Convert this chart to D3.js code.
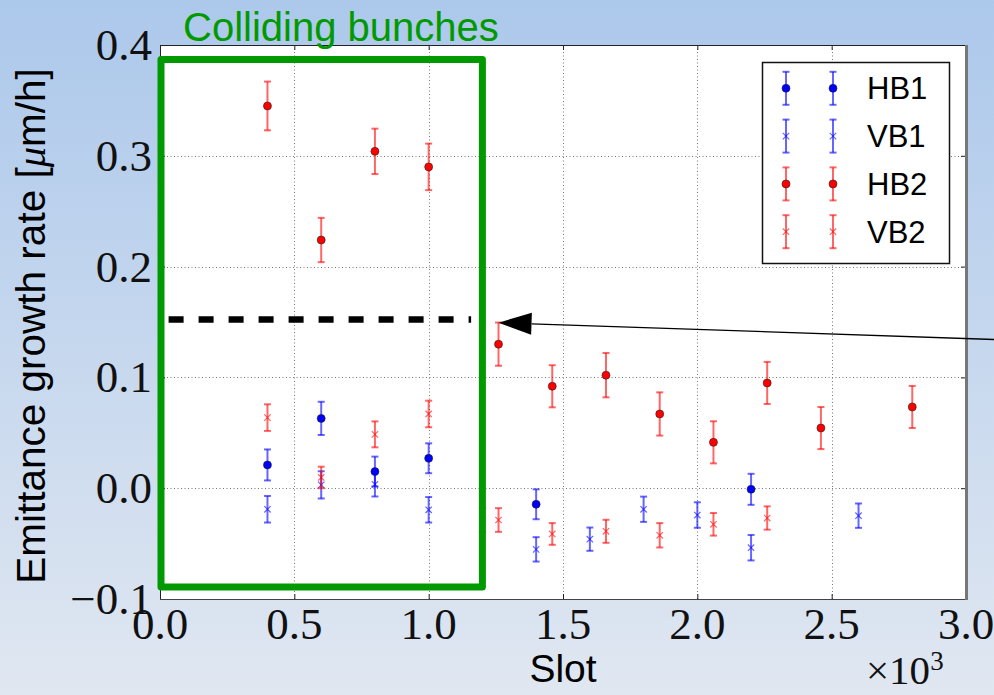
<!DOCTYPE html>
<html>
<head>
<meta charset="utf-8">
<script src="https://cdn.jsdelivr.net/npm/d3@7"></script>
<style>
  html, body { margin: 0; padding: 0; }
  svg { display: block; }
</style>
</head>
<body>
<svg id="chart" width="994" height="695"></svg>
<script>
// Emittance growth rate per bunch slot, horizontal/vertical planes of beams 1 and 2
const hb1Slots = [400, 600, 800, 1000, 1400, 2200];
const hb1Rate  = [0.021, 0.063, 0.015, 0.027, -0.0145, -0.001];
const hb1Err   = [0.014, 0.015, 0.0135, 0.0135, 0.0135, 0.014];

const vb1Slots = [400, 600, 800, 1000, 1200, 1400, 1600, 1800, 2000, 2200, 2600];
const vb1Rate  = [-0.019, 0.003, 0.0035, -0.0195, -0.0287, -0.0552, -0.046, -0.019, -0.0242, -0.0537, -0.0248];
const vb1Err   = [0.012, 0.0123, 0.011, 0.0115, 0.011, 0.011, 0.0105, 0.0114, 0.0115, 0.0115, 0.011];

const hb2Slots = [400, 600, 800, 1000, 1260, 1460, 1660, 1860, 2060, 2260, 2460, 2800];
const hb2Rate  = [0.345, 0.224, 0.304, 0.290, 0.130, 0.092, 0.102, 0.067, 0.0414, 0.095, 0.0543, 0.0733];
const hb2Err   = [0.022, 0.020, 0.0205, 0.021, 0.0195, 0.019, 0.020, 0.0195, 0.019, 0.019, 0.019, 0.019];

const vb2Slots = [400, 600, 800, 1000, 1260, 1460, 1660, 1860, 2060, 2260];
const vb2Rate  = [0.0637, 0.0097, 0.0486, 0.067, -0.0287, -0.0413, -0.0389, -0.0425, -0.0326, -0.0269];
const vb2Err   = [0.012, 0.0097, 0.0117, 0.012, 0.0107, 0.0098, 0.0104, 0.011, 0.0102, 0.0105];

const seriesNames  = ["HB1", "VB1", "HB2", "VB2"];
const seriesColors = ["#0000ff", "#0000ff", "#ff0000", "#ff0000"];
const seriesShapes = ["dot", "cross", "dot", "cross"];

const xTickValues = [0, 500, 1000, 1500, 2000, 2500, 3000];
const xTickLabels = ["0.0", "0.5", "1.0", "1.5", "2.0", "2.5", "3.0"];
const yTickValues = [-0.1, 0.0, 0.1, 0.2, 0.3, 0.4];
const yTickLabels = ["\u22120.1", "0.0", "0.1", "0.2", "0.3", "0.4"];

// Annotations in data units
const collidingBox = { x0: 0, x1: 1200, y0: -0.0892, y1: 0.387 };
const thresholdLevel = 0.1523;
const thresholdSpan = [32, 1158];
const arrowTip = [1260, 0.1494];
const arrowTail = [3200, 0.1334];

const series = [
  { slots: hb1Slots, rate: hb1Rate, err: hb1Err },
  { slots: vb1Slots, rate: vb1Rate, err: vb1Err },
  { slots: hb2Slots, rate: hb2Rate, err: hb2Err },
  { slots: vb2Slots, rate: vb2Rate, err: vb2Err }
].map((s, i) => ({
  name: seriesNames[i], color: seriesColors[i], shape: seriesShapes[i],
  points: s.slots.map((x, j) => ({ x, y: s.rate[j], e: s.err[j] }))
}));

const svg = d3.select("#chart");
const W = 994, H = 695;
const m = { left: 160, right: 966, top: 45, bottom: 599 };

const x = d3.scaleLinear().domain([0, 3000]).range([m.left, m.right]);
const y = d3.scaleLinear().domain([-0.1, 0.4]).range([m.bottom, m.top]);

// Figure background
const defs = svg.append("defs");
const grad = defs.append("linearGradient").attr("id", "bg").attr("x1", 0).attr("y1", 0).attr("x2", 0).attr("y2", 1);
grad.append("stop").attr("offset", "0%").attr("stop-color", "#acc8eb");
grad.append("stop").attr("offset", "100%").attr("stop-color", "#e0e7f1");
svg.append("rect").attr("width", W).attr("height", H).attr("fill", "url(#bg)");

defs.append("clipPath").attr("id", "plotClip").append("rect")
  .attr("x", m.left).attr("y", m.top).attr("width", m.right - m.left).attr("height", m.bottom - m.top);

// Axes background
svg.append("rect").attr("x", m.left).attr("y", m.top)
  .attr("width", m.right - m.left).attr("height", m.bottom - m.top).attr("fill", "#ffffff");

// Dotted grid
const grid = svg.append("g").attr("stroke", "#777").attr("stroke-width", 1).attr("stroke-dasharray", "1,2.5");
grid.selectAll("line.gx").data(xTickValues.slice(1, -1)).join("line")
  .attr("x1", d => Math.round(x(d)) + 0.5).attr("x2", d => Math.round(x(d)) + 0.5)
  .attr("y1", m.top).attr("y2", m.bottom);
grid.selectAll("line.gy").data(yTickValues.slice(1, -1)).join("line")
  .attr("y1", d => Math.round(y(d)) + 0.5).attr("y2", d => Math.round(y(d)) + 0.5)
  .attr("x1", m.left).attr("x2", m.right);

// Axes with inward ticks (labels drawn separately for serif styling)
const axB = svg.append("g").attr("transform", `translate(0,${m.bottom})`)
  .call(d3.axisBottom(x).tickValues(xTickValues).tickSize(-5).tickFormat(""));
const axT = svg.append("g").attr("transform", `translate(0,${m.top})`)
  .call(d3.axisTop(x).tickValues(xTickValues).tickSize(-5).tickFormat(""));
const axL = svg.append("g").attr("transform", `translate(${m.left},0)`)
  .call(d3.axisLeft(y).tickValues(yTickValues).tickSize(-5).tickFormat(""));
const axR = svg.append("g").attr("transform", `translate(${m.right},0)`)
  .call(d3.axisRight(y).tickValues(yTickValues).tickSize(-5).tickFormat(""));
[axB, axT, axL, axR].forEach(a => {
  a.select(".domain").remove();
  a.selectAll("line").attr("stroke", "#222").attr("stroke-width", 1);
});

// Frame
svg.append("line").attr("x1", m.left + 0.5).attr("x2", m.left + 0.5).attr("y1", m.top).attr("y2", m.bottom).attr("stroke", "#222");
svg.append("line").attr("x1", m.left).attr("x2", m.right).attr("y1", m.top + 0.5).attr("y2", m.top + 0.5).attr("stroke", "#222");
svg.append("line").attr("x1", m.left).attr("x2", m.right).attr("y1", m.bottom + 0.5).attr("y2", m.bottom + 0.5).attr("stroke", "#444");
svg.append("line").attr("x1", m.right + 0.5).attr("x2", m.right + 0.5).attr("y1", m.top).attr("y2", m.bottom + 1).attr("stroke", "#777").attr("stroke-width", 3);

// Tick labels
const serif = "'Liberation Serif', 'DejaVu Serif', serif";
svg.append("g").selectAll("text").data(xTickValues).join("text")
  .attr("x", d => x(d)).attr("y", m.bottom + 40)
  .attr("text-anchor", "middle").attr("font-family", serif).attr("font-size", 45).attr("fill", "#111")
  .text((d, i) => xTickLabels[i]);
svg.append("g").selectAll("text").data(yTickValues).join("text")
  .attr("x", m.left - 8).attr("y", d => y(d) + 15)
  .attr("text-anchor", "end").attr("font-family", serif).attr("font-size", 45).attr("fill", "#111")
  .text((d, i) => yTickLabels[i]);

// Axis titles
const sans = "'Liberation Sans', Arial, sans-serif";
svg.append("text").attr("x", (m.left + m.right) / 2).attr("y", 682)
  .attr("text-anchor", "middle").attr("font-family", sans).attr("font-size", 39).attr("fill", "#000").text("Slot");
const yl = svg.append("text").attr("transform", `translate(45,326) rotate(-90)`)
  .attr("text-anchor", "middle").attr("font-family", sans).attr("font-size", 40.5).attr("fill", "#000");
yl.append("tspan").text("Emittance growth rate [");
yl.append("tspan").attr("font-family", serif).attr("font-style", "italic").text("\u03bc");
yl.append("tspan").text("m/h]");

// Offset label
const off = svg.append("text").attr("x", 866).attr("y", 684).attr("font-family", serif).attr("font-size", 41).attr("fill", "#111");
off.append("tspan").text("\u00d710");
off.append("tspan").attr("font-size", 27).attr("dy", -14).text("3");

// Marker drawing helpers
function drawErrorBar(g, cx, cTop, cBot, color) {
  g.append("line").attr("x1", cx).attr("x2", cx).attr("y1", cTop).attr("y2", cBot)
    .attr("stroke", color).attr("stroke-width", 2).attr("stroke-opacity", 0.6);
  [cTop, cBot].forEach(cy => g.append("line").attr("x1", cx - 3.5).attr("x2", cx + 3.5).attr("y1", cy).attr("y2", cy)
    .attr("stroke", color).attr("stroke-width", 2).attr("stroke-opacity", 0.6));
}
function drawMarker(g, cx, cy, shape, color) {
  if (shape === "dot") {
    g.append("circle").attr("cx", cx).attr("cy", cy).attr("r", 4)
      .attr("fill", color).attr("stroke", "#222").attr("stroke-width", 0.6);
  } else {
    const s = 3.2;
    g.append("path").attr("d", `M${cx - s},${cy - s}L${cx + s},${cy + s}M${cx - s},${cy + s}L${cx + s},${cy - s}`)
      .attr("stroke", color).attr("stroke-width", 1.2).attr("stroke-opacity", 0.6).attr("fill", "none");
  }
}

// Data marks
const marks = svg.append("g").attr("clip-path", "url(#plotClip)");
series.forEach(s => {
  const g = marks.append("g").attr("class", "series-" + s.name);
  s.points.forEach(p => {
    drawErrorBar(g, x(p.x), y(p.y + p.e), y(p.y - p.e), s.color);
    drawMarker(g, x(p.x), y(p.y), s.shape, s.color);
  });
});

// Colliding bunches box
const green = "#009a00";
svg.append("rect")
  .attr("x", x(collidingBox.x0) + 1).attr("y", y(collidingBox.y1))
  .attr("width", x(collidingBox.x1) - x(collidingBox.x0) - 1)
  .attr("height", y(collidingBox.y0) - y(collidingBox.y1))
  .attr("fill", "none").attr("stroke", green).attr("stroke-width", 7).attr("stroke-linejoin", "round");
svg.append("text").attr("x", 183).attr("y", 41)
  .attr("font-family", sans).attr("font-size", 40).attr("fill", green).text("Colliding bunches");

// Threshold dashed line
svg.append("line")
  .attr("x1", x(thresholdSpan[0])).attr("x2", x(thresholdSpan[1]))
  .attr("y1", y(thresholdLevel)).attr("y2", y(thresholdLevel))
  .attr("stroke", "#000").attr("stroke-width", 6.5).attr("stroke-dasharray", "15,15");

// Arrow pointing to the first non-colliding bunch
const tip = [x(arrowTip[0]), y(arrowTip[1])];
const tail = [x(arrowTail[0]), y(arrowTail[1])];
const ang = Math.atan2(tail[1] - tip[1], tail[0] - tip[0]);
const hl = 33, hw = 11;
const base = [tip[0] + hl * Math.cos(ang), tip[1] + hl * Math.sin(ang)];
svg.append("line").attr("x1", base[0]).attr("y1", base[1]).attr("x2", tail[0]).attr("y2", tail[1])
  .attr("stroke", "#000").attr("stroke-width", 1.3);
svg.append("path")
  .attr("d", `M${tip[0]},${tip[1]}L${base[0] - hw * Math.sin(ang)},${base[1] + hw * Math.cos(ang)}L${base[0] + hw * Math.sin(ang)},${base[1] - hw * Math.cos(ang)}Z`)
  .attr("fill", "#000");

// Legend
const lg = svg.append("g");
lg.append("rect").attr("x", 762.5).attr("y", 62.5).attr("width", 187).attr("height", 201)
  .attr("fill", "#fff").attr("stroke", "#111").attr("stroke-width", 1.5);
series.forEach((s, i) => {
  const cy = 88.3 + i * 47.8;
  [786, 833].forEach(cx => {
    drawErrorBar(lg, cx, cy - 16.5, cy + 16.5, s.color);
    drawMarker(lg, cx, cy, s.shape, s.color);
  });
  lg.append("text").attr("x", 867).attr("y", cy + 11)
    .attr("font-family", sans).attr("font-size", 31).attr("fill", "#000").text(s.name);
});
</script>
</body>
</html>
